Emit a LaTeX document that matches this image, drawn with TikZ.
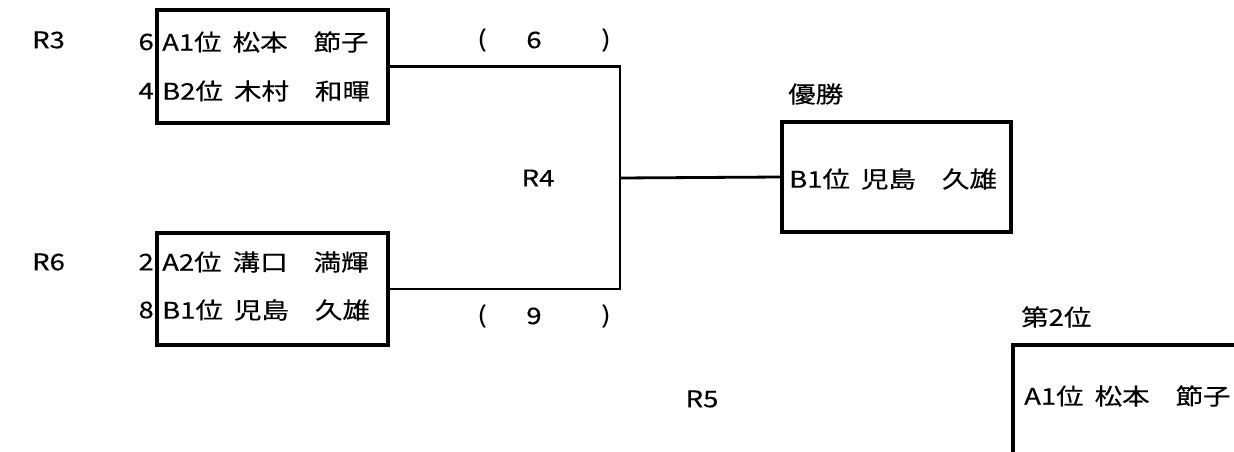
\documentclass[tikz,border=0pt]{standalone}
\usepackage{fontspec}
\setmainfont[FakeStretch=1.2,FakeBold=0.3]{Noto Sans CJK JP}
\usetikzlibrary{positioning}
\newcommand{\rankgap}{\hspace{11bp}}
\newcommand{\namegap}{\hspace{26bp}}

\begin{document}
\begin{tikzpicture}[x=1bp,y=-1bp,font=\fontsize{23}{27}\selectfont]
  \tikzstyle{entry}=[draw,line width=3.4bp,minimum width=231bp,minimum height=112bp,anchor=north west,inner sep=0pt,outer sep=0pt]
  \tikzstyle{txt}=[anchor=west,inner sep=0pt]
  \tikzstyle{seed}=[anchor=east,inner sep=0pt]
  \tikzstyle{wire}=[line width=2.8bp]

  \useasboundingbox (0,0) rectangle (1234,452);
  \clip (0,0) rectangle (1234,452);

  \node[entry,minimum height=113bp] (m3) at (157,10) {};
  \node[entry] (m6) at (157,233) {};
  \node[entry,minimum width=229bp,minimum height=110bp] (win) at (782,122) {};
  \node[entry,minimum width=300bp,minimum height=200bp] (second) at (1013,345) {};

  \node[txt] (r3) at (32,40) {R3};
  \node[seed] (s6) at (154,42) {6};
  \node[txt] (p1) at (162,42) {A1位\rankgap 松本\namegap 節子};
  \node[seed] (s4) at (154,91) {4};
  \node[txt] (p2) at (162,91) {B2位\rankgap 木村\namegap 和暉};

  \node[txt] (r6) at (32,262) {R6};
  \node[seed] (s2) at (154,262) {2};
  \node[txt] (p3) at (162,262) {A2位\rankgap 溝口\namegap 満輝};
  \node[seed] (s8) at (154,310) {8};
  \node[txt] (p4) at (162,310) {B1位\rankgap 児島\namegap 久雄};

  \node (lp1) at (482,40) {(};
  \node (sc1) at (534,40) {6};
  \node (rp1) at (606,40) {)};
  \node (lp2) at (482,316) {(};
  \node (sc2) at (534,316) {9};
  \node (rp2) at (606,316) {)};

  \node (r4) at (538,178) {R4};
  \node (r5) at (702,399) {R5};
  \node[txt] (champ) at (788,94) {優勝};
  \node[txt] (pw) at (789,179) {B1位\rankgap 児島\namegap 久雄};
  \node[txt] (runner) at (1021,317) {第2位};
  \node[txt] (ps) at (1024,396) {A1位\rankgap 松本\namegap 節子};

  \coordinate (r4j) at (620,178);
  \draw[wire] (m3.east) -| (r4j) |- (m6.east);
  \draw[wire] (r4j) -- (win.west);

\end{tikzpicture}
\end{document}
